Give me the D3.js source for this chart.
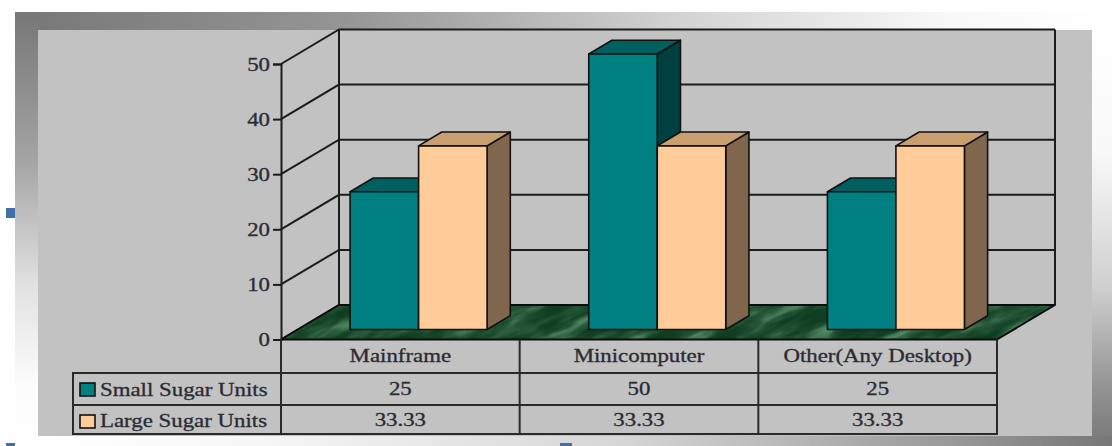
<!DOCTYPE html>
<html>
<head>
<meta charset="utf-8">
<script src="https://cdn.jsdelivr.net/npm/d3@7"></script>
<style>
html,body{margin:0;padding:0;background:#fff;overflow:hidden}
svg{display:block}
text{font-family:"Liberation Serif","Times New Roman",serif;font-size:18px;fill:#2b2b33;stroke:#2b2b33;stroke-width:.3px}
</style>
</head>
<body>
<div id="chart"></div>
<script>
const categories = ["Mainframe", "Minicomputer", "Other(Any Desktop)"];
const seriesNames = ["Small Sugar Units", "Large Sugar Units"];
const smallUnits = [25, 50, 25];
const largeUnits = [33.33, 33.33, 33.33];
const smallLabels = ["25", "50", "25"];
const largeLabels = ["33.33", "33.33", "33.33"];
const tickValues = [0, 10, 20, 30, 40, 50];

const width = 1112, height = 446;
const svg = d3.select("#chart").append("svg").attr("width", width).attr("height", height);
const defs = svg.append("defs");

// Plot geometry: a front plane and a receding depth axis
const y = d3.scaleLinear().domain([0, 50]).range([339.5, 64]);
const xCat = d3.scaleBand().domain(categories).range([281, 997]);
const barGroup = xCat.bandwidth() * 0.219;
const xSeries = d3.scaleBand().domain(seriesNames).range([barGroup, barGroup + 137]);
const depthX = d3.scaleLinear().domain([0, 1]).range([0, 58]);
const depthY = d3.scaleLinear().domain([0, 1]).range([0, -34.5]);
const project = (x, v, z) => [x + depthX(z), y(v) + depthY(z)];
const poly = pts => pts.map(p => p.join(",")).join(" ");

// Text is set wide, as in the table of the original layout
const wide = 1.27;
function wideText(parent, str, px, py, anchor) {
  return parent.append("text")
    .attr("transform", `translate(${px},${py}) scale(${wide},1)`)
    .attr("text-anchor", anchor)
    .text(str);
}

// Frame gradients
function gradient(id, x2, y2, stops) {
  const g = defs.append("linearGradient").attr("id", id)
    .attr("x1", 0).attr("y1", 0).attr("x2", x2).attr("y2", y2);
  stops.forEach(([o, c]) => g.append("stop").attr("offset", o).attr("stop-color", c));
}
gradient("frameTop", 1, 0, [[0, "#777"], [0.3, "#959595"], [0.6, "#d2d2d2"], [0.85, "#f8f8f8"], [1, "#fff"]]);
gradient("frameLeft", 0, 1, [[0, "#777"], [0.35, "#a5a5a5"], [0.62, "#e0e0e0"], [0.85, "#fbfbfb"], [1, "#fff"]]);
gradient("frameRight", 0, 1, [[0, "#fff"], [0.3, "#f8f8f8"], [0.62, "#cfcfcf"], [0.85, "#959595"], [1, "#777"]]);
gradient("frameBottom", 1, 0, [[0, "#fff"], [0.2, "#f7f7f7"], [0.55, "#d5d5d5"], [0.85, "#999"], [1, "#777"]]);

const frame = svg.append("g");
frame.append("rect").attr("x", 15).attr("y", 12).attr("width", 1097).attr("height", 18).attr("fill", "url(#frameTop)");
frame.append("rect").attr("x", 15).attr("y", 12).attr("width", 23).attr("height", 434).attr("fill", "url(#frameLeft)");
frame.append("rect").attr("x", 1092).attr("y", 30).attr("width", 20).attr("height", 416).attr("fill", "url(#frameRight)");
frame.append("rect").attr("x", 38).attr("y", 436).attr("width", 1074).attr("height", 10).attr("fill", "url(#frameBottom)");
frame.append("rect").attr("x", 38).attr("y", 30).attr("width", 1054).attr("height", 406).attr("fill", "#c2c2c2");

// Slide bullets at the page edge
const bullets = [[6, 208, 9, 10], [6, 443, 9, 3], [560, 443, 12, 3]];
svg.append("g").selectAll("rect").data(bullets).join("rect")
  .attr("x", d => d[0]).attr("y", d => d[1]).attr("width", d => d[2]).attr("height", d => d[3])
  .attr("fill", "#3f6fad");

const lineColor = "#1c1c1c";
const x0 = xCat.range()[0], x1 = xCat.range()[1];
const walls = svg.append("g").attr("stroke", lineColor).attr("stroke-width", 2).attr("fill", "none");

// Back wall grid and the diagonals across the side wall
tickValues.forEach(t => {
  const a = project(x0, t, 0), b = project(x0, t, 1), c = project(x1, t, 1);
  walls.append("polyline").attr("points", poly([a, b, c]));
});
walls.append("line").attr("x1", project(x0, 0, 1)[0]).attr("x2", project(x0, 0, 1)[0])
  .attr("y1", project(x0, 0, 1)[1]).attr("y2", project(x0, 50, 1)[1]);
walls.append("line").attr("x1", project(x1, 0, 1)[0]).attr("x2", project(x1, 0, 1)[0])
  .attr("y1", project(x1, 0, 1)[1]).attr("y2", project(x1, 50, 1)[1]);

// Marbled green floor
const marble = defs.append("filter").attr("id", "marble")
  .attr("x", 0).attr("y", 0).attr("width", 1).attr("height", 1)
  .attr("color-interpolation-filters", "sRGB");
marble.append("feTurbulence").attr("type", "fractalNoise")
  .attr("baseFrequency", "0.022 0.085").attr("numOctaves", 3).attr("seed", 11);
marble.append("feColorMatrix").attr("type", "matrix")
  .attr("values", "0 0 0 0 0  1 0 0 0 0  0 0 0 0 0  0 0 0 0 1");
const ct = marble.append("feComponentTransfer");
ct.append("feFuncG").attr("type", "table").attr("tableValues", "0 0 0 0.1 0.3 0.65 0.9 1");
marble.append("feColorMatrix").attr("type", "matrix")
  .attr("values", "0 0.3 0 0 0.06  0 0.34 0 0 0.24  0 0.3 0 0 0.13  0 0 0 0 1");
marble.append("feGaussianBlur").attr("stdDeviation", 0.7);

const floorPts = [project(x0, 0, 0), project(x0, 0, 1), project(x1, 0, 1), project(x1, 0, 0)];
defs.append("clipPath").attr("id", "floorClip").append("polygon").attr("points", poly(floorPts));
const floor = svg.append("g").attr("clip-path", "url(#floorClip)");
floor.append("rect").attr("x", x0 - 100).attr("y", 100).attr("width", x1 - x0 + 260).attr("height", 420)
  .attr("transform", `rotate(-24 ${(x0 + x1) / 2} 320)`)
  .attr("filter", "url(#marble)");
svg.append("polygon").attr("points", poly(floorPts))
  .attr("fill", "none").attr("stroke", "#0c0c0c").attr("stroke-width", 2).attr("stroke-linejoin", "round");

// Bars, each one a front, top and side face
const barDepth = [0.29, 0.69];
const palette = [
  { front: "#008080", top: "#006060", side: "#004040" },
  { front: "#ffcc99", top: "#c99f70", side: "#80664d" }
];
const seriesValues = [smallUnits, largeUnits];
const bars = svg.append("g").attr("stroke", "#111").attr("stroke-width", 1.6).attr("stroke-linejoin", "round");
categories.forEach((cat, i) => {
  seriesNames.forEach((name, s) => {
    const v = seriesValues[s][i];
    const xa = xCat(cat) + xSeries(name);
    const xb = xa + xSeries.bandwidth();
    const [zf, zb] = barDepth;
    const c = palette[s];
    bars.append("polygon").attr("fill", c.side)
      .attr("points", poly([project(xb, 0, zf), project(xb, v, zf), project(xb, v, zb), project(xb, 0, zb)]));
    bars.append("polygon").attr("fill", c.top)
      .attr("points", poly([project(xa, v, zf), project(xa, v, zb), project(xb, v, zb), project(xb, v, zf)]));
    bars.append("polygon").attr("fill", c.front)
      .attr("points", poly([project(xa, 0, zf), project(xa, v, zf), project(xb, v, zf), project(xb, 0, zf)]));
  });
});

// Value axis on the front plane
const axis = svg.append("g").attr("transform", `translate(${x0},0)`)
  .call(d3.axisLeft(y).tickValues(tickValues).tickSize(8).tickFormat(d3.format("d")));
axis.select(".domain").attr("stroke", lineColor).attr("stroke-width", 2);
axis.selectAll(".tick line").attr("stroke", lineColor).attr("stroke-width", 2);
axis.selectAll(".tick text")
  .attr("x", null).attr("dy", null)
  .attr("transform", `translate(-11,6) scale(${wide},1)`)
  .attr("text-anchor", "end")
  .style("font-size", "18px")
  .style("font-family", '"Liberation Serif","Times New Roman",serif');

// Data table under the plot
const rowY = [339.5, 373, 405, 434];
const tableLeft = 73;
const colX = [x0].concat(categories.map(c => xCat(c) + xCat.bandwidth()));
const table = svg.append("g").attr("stroke", "#2a2a2a").attr("stroke-width", 2).attr("fill", "none");
table.append("polyline").attr("points", poly([[x1, rowY[0]], [x1, rowY[3]], [tableLeft, rowY[3]], [tableLeft, rowY[1]], [x1, rowY[1]]]));
table.append("line").attr("x1", tableLeft).attr("x2", x1).attr("y1", rowY[2]).attr("y2", rowY[2]);
colX.slice(0, 3).forEach(cx => {
  table.append("line").attr("x1", cx).attr("x2", cx).attr("y1", rowY[0]).attr("y2", rowY[3]);
});

const labels = svg.append("g");
const centre = c => xCat(c) + xCat.bandwidth() / 2;
categories.forEach((c, i) => {
  wideText(labels, c, centre(c), 362, "middle");
  wideText(labels, smallLabels[i], centre(c), 395, "middle");
  wideText(labels, largeLabels[i], centre(c), 426, "middle");
});

// Legend keys sit in the row headers
const rowText = [396, 427];
const keyTop = [383, 415];
seriesNames.forEach((name, s) => {
  svg.append("rect").attr("x", 80).attr("y", keyTop[s]).attr("width", 15).attr("height", 13)
    .attr("fill", palette[s].front).attr("stroke", "#111").attr("stroke-width", 1.6);
  wideText(labels, name, 100, rowText[s], "start");
});
</script>
</body>
</html>
